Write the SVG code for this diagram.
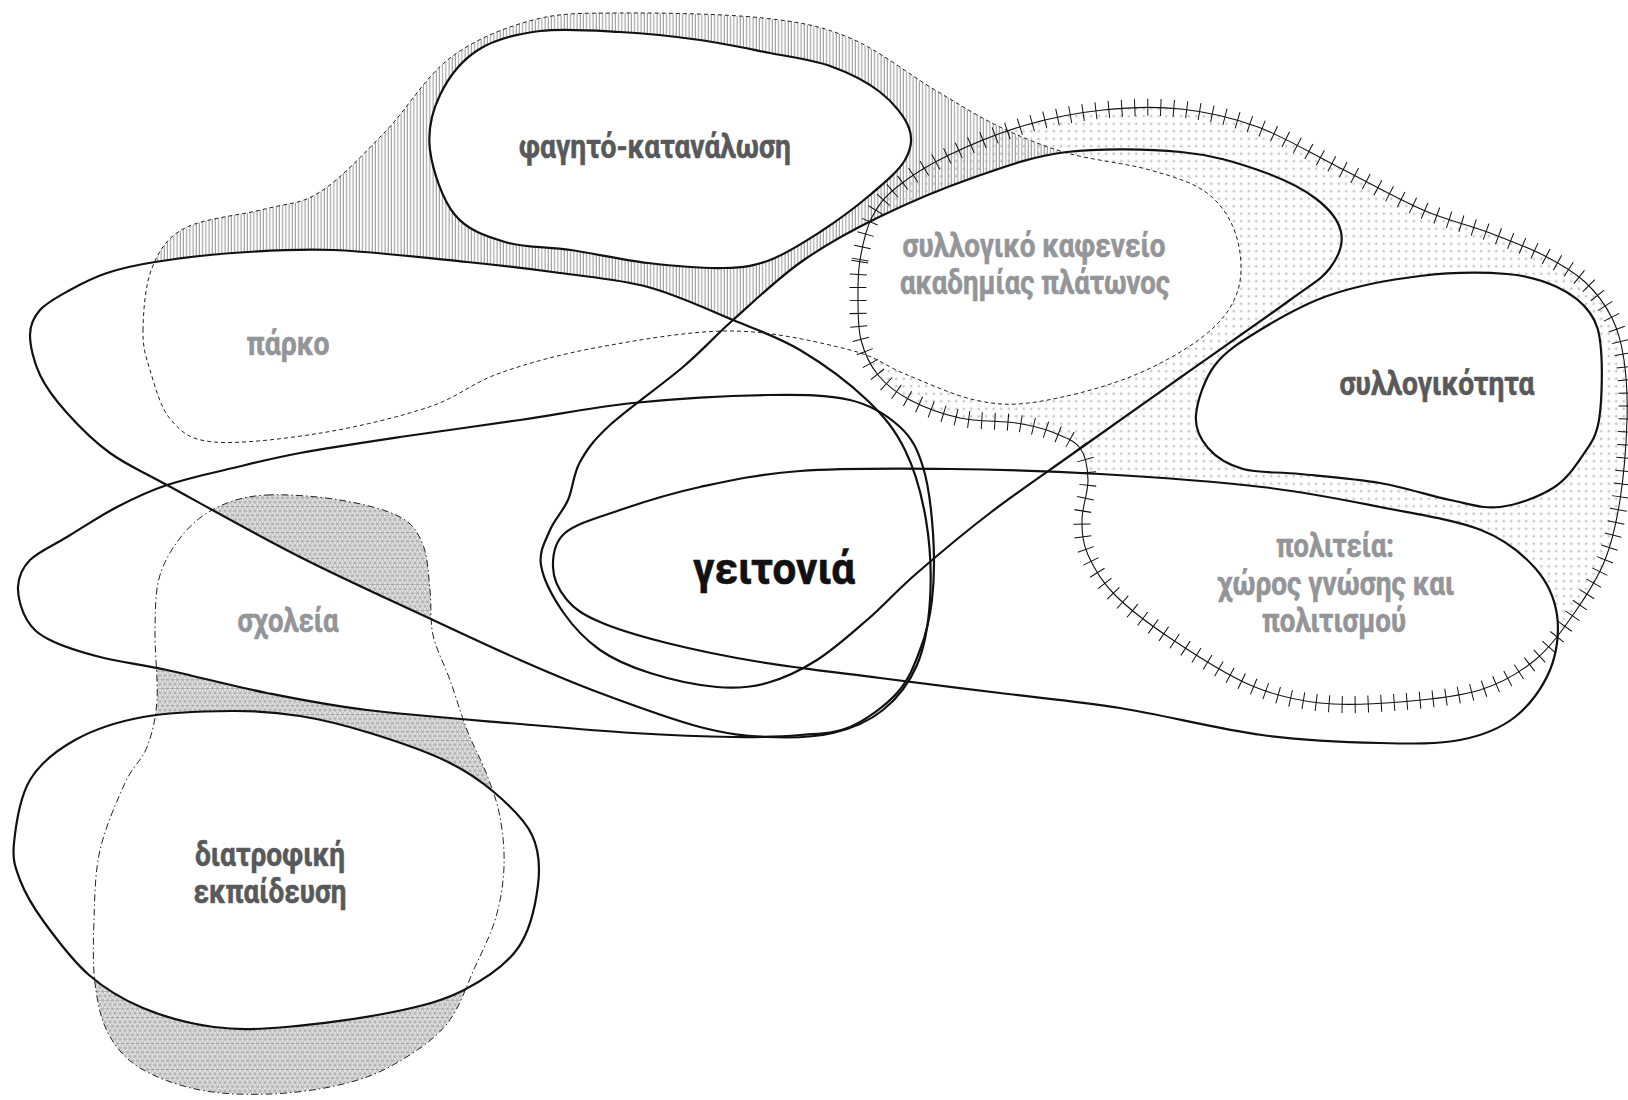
<svg xmlns="http://www.w3.org/2000/svg" xmlns:xlink="http://www.w3.org/1999/xlink" width="1628" height="1100" viewBox="0 0 1628 1100">
<style>
.solid{fill:none;stroke:#111;stroke-width:2.2;stroke-linejoin:round}
.dash{fill:none;stroke:#222;stroke-width:1;stroke-dasharray:4 3}
.dashdot{fill:none;stroke:#222;stroke-width:1;stroke-dasharray:7 3 1.5 3}
.tickline{fill:none;stroke:#111;stroke-width:1.1}
.ticks{fill:none;stroke:#111;stroke-width:17;stroke-dasharray:1 12}
.lbl{font-family:Roboto,"Noto Sans",sans-serif;font-weight:700;font-size:33px;text-anchor:middle;stroke-width:0.6;stroke-linejoin:round}
.dark{fill:#58595b;stroke:#58595b}
.light{fill:#939598;stroke:#939598}
.main{fill:#111;stroke:#111;font-size:44px}
</style>
<defs>
<path id="pPark" d="M143,330 C143.3,313 145,285 152,268 S166.2,237.8 185,228 S242.5,215 265,209 S300,204.8 320,192 S363.3,154.3 385,132 S425.3,76.7 450,58 S504.7,27.5 533,20 S581.7,13.3 620,13 S724.7,13.8 763,18 S821.3,26 850,38 S910,75.2 935,90 S978,116.5 1000,127 S1042,145.8 1067,153 S1126.7,163.3 1150,170 S1192.7,182.2 1207,193 S1230.8,218.8 1236,235 S1243.2,273.3 1238,290 S1223,320.5 1205,335 S1158.2,365.8 1130,377 S1061.8,398.2 1036,402 S996.8,404.7 975,400 S925.8,382.3 905,374 S878.7,357.2 850,350 S774.7,331.5 733,331 S638.8,340 600,347 S528.5,363 500,373 S458.8,397 429,407 S356.8,427.2 321,433 S239,444.2 214,442 S181.7,432 171,420 S154.7,385 150,370 S142.7,347 143,330 Z"/>
<path id="pS1" d="M430,150 C427.5,130 432,111.7 440,95 S461.3,60.7 478,50 S516.3,34 540,31 S593.3,30.5 620,32 S675,36.5 700,40 S748.3,48.7 770,53 S811.7,59.5 830,66 S866.8,81.7 880,92 S904.8,116.7 909,128 S911.5,148.8 905,160 S884.2,183 870,195 S836.7,221.2 820,232 S786,254 770,260 S744.3,267.5 724,268 S673.5,266 648,263 S594.8,253.5 571,250 S524.3,247.8 505,242 S467.5,230.3 455,215 S432.5,170 430,150 Z"/>
<path id="pS2" d="M30,335 C30,324.2 33.3,317.5 40,310 S58.8,296.2 70,290 S92.8,277.7 107,273 S134,265.3 155,262 S203.3,255 233,253 S294,248.5 333,250 S429.2,258.2 467,262 S529.8,268.8 560,273 S619.2,279.2 648,287 S707.7,309.5 733,320 S777.7,336.7 800,350 S849.5,383.3 867,400 S895.2,430 905,450 S921.8,495 926,520 S931.5,575.8 930,600 S924.8,646.7 917,665 S897,698.7 883,710 S852.3,728.5 833,733 S789.2,738 767,737 S727.8,734.3 700,727 S630,704.2 600,693 S547.8,672.2 520,660 S469.7,637.2 433,620 S344.3,579.5 300,557 S198.7,502.3 167,485 S126.7,465 110,453 S78.7,426 67,413 S46.2,388 40,375 S30,345.8 30,335 Z"/>
<path id="pS3" d="M18,587 C18.5,577 21.8,568.3 30,560 S52.5,545.8 67,537 S100.3,515.7 117,507 S147.7,491.5 167,485 S210.8,473.3 233,468 S272.2,458.2 300,453 S363.3,442.5 400,437 S481.2,425.7 520,420 S591.8,407.2 633,403 S730.8,395.5 767,395 S827.8,394.7 850,400 S887.8,415.8 900,427 S917.5,449.3 923,467 S931.5,510.8 933,533 S934.2,580.5 932,600 S925.8,634.5 920,650 S908.7,680.2 897,693 S866.2,720 850,727 S819.5,733.3 800,735 S760.8,737.3 733,737 S668.5,735.2 633,733 S564.3,727.8 520,724 S409.2,715.2 367,710 S300.3,699.7 267,693 S194.8,676 167,670 S119.5,662 100,657 S62.2,646.2 50,640 S32.3,628.8 27,620 S17.5,597 18,587 Z"/>
<path id="pS4a" d="M1341,232 C1343.5,243.7 1338.5,256.7 1330,268 S1314.8,281.8 1290,300 S1216.3,352 1181,377 S1109.8,427.3 1078,450 S1016.8,492.5 990,513 S937.5,555.2 917,573 S883.7,605.5 867,620 S833.7,649.5 817,660 S783.7,678.5 767,683 S736.5,688.7 717,687 S669.5,679.2 650,673 S614.5,660.2 600,650 S572.8,626.2 563,612 S543.2,578.7 541,565 S545.5,540.8 550,530 S563,511.3 568,500 S573,474.5 580,462 S592.8,440.8 610,425 S662.5,384.5 683,367 S713.3,337.5 733,320 S777,279 801,262 S848,232.2 877,218 S943.3,188 975,177 S1032.7,156.2 1067,152 S1149.2,149 1181,152 S1235.7,162.3 1258,170 S1301.2,187.7 1315,198 S1338.5,220.3 1341,232 Z"/>
<path id="pS4b" d="M553,567 C552.7,555.8 553.8,542.5 565,533 S597.5,517.7 620,510 S670,493.5 700,487 S758.3,474 800,471 S900,468.5 950,469 S1048,471 1100,474 S1215.3,481.5 1262,487 S1343.5,499.8 1380,507 S1455.2,519.8 1481,530 S1522.3,553.8 1535,568 S1554.5,598 1557,615 S1557,653 1550,670 S1530,705.3 1515,717 S1482.5,735.7 1460,740 S1413,743.8 1380,743 S1305.3,740.8 1262,735 S1163.7,715 1120,708 S1040,698 1000,693 S920,683.2 880,678 S795.5,667.8 760,662 S693.7,649.7 667,643 S616.7,629.2 600,622 S574.8,609.2 567,600 S553.3,578.2 553,567 Z"/>
<path id="pS5" d="M1196,415 C1197.2,401.2 1204.3,379.2 1215,365 S1240.8,341.7 1260,330 S1303.3,304 1330,295 S1390.5,279.5 1420,276 S1484.2,272.2 1507,274 S1543.2,280.5 1557,287 S1582.7,302.5 1590,313 S1599.5,332.2 1601,350 S1602,402.5 1599,420 S1590.7,443.7 1583,455 S1566.8,479.3 1553,488 S1517.2,505 1500,507 S1470,504 1450,500 S1405,487.3 1380,483 S1322.8,476.3 1300,474 S1258.3,473.3 1243,469 S1215.8,457 1208,448 S1194.8,428.8 1196,415 Z"/>
<path id="pS6" d="M14,843 C15.7,826.3 19.8,797.2 30,780 S56.2,750.5 75,740 S116.8,721.8 143,717 S205.8,711.2 232,711 S277,712.3 300,716 S345.7,725.5 370,733 S425.2,751 446,761 S480.7,780.7 495,793 S524.8,819.7 532,835 S540.3,866.2 538,885 S530.3,930.5 518,948 S484.8,979.3 464,990 S422.7,1005.8 393,1012 S315.8,1024.5 286,1027 S237.8,1030.2 214,1027 S163.8,1016.7 143,1008 S105.5,989.3 89,975 S55.5,937.8 44,922 S25,893.2 20,880 S12.3,859.7 14,843 Z"/>
<path id="pP2" d="M860,260 C862.3,246.2 865.8,229.2 872,217 S884.2,197.3 897,187 S927.5,165.3 949,155 S1000.3,132.5 1026,125 S1077.2,112.7 1103,110 S1155.2,106.2 1181,109 S1231.5,117.2 1258,127 S1312.5,154.2 1340,168 S1398,199.2 1423,210 S1469.7,225.3 1490,233 S1529.2,247.8 1545,256 S1573.8,271.7 1585,282 S1605.5,305 1612,318 S1621.5,343 1624,360 S1627.7,396.7 1627,420 S1623.7,476.7 1620,500 S1612.5,541.3 1605,560 S1586.7,595.3 1575,612 S1550.8,647 1535,660 S1502.5,683 1480,690 S1426.7,699.8 1400,702 S1345,705.8 1320,703 S1275,695.8 1250,685 S1192.5,653 1170,638 S1128.7,608.8 1115,595 S1093.5,567.5 1088,555 S1082,532.5 1082,520 S1088.3,492 1088,480 S1086,456 1080,448 S1062.7,436.2 1052,432 S1031.3,425.3 1016,423 S977.7,421.8 960,418 S923.7,407.2 910,400 S886.2,385 878,375 S864.3,352.5 861,340 S858.2,313.3 858,300 S857.7,273.8 860,260 Z"/>
<path id="pP3" d="M267,495 C287,494 317.8,496.3 340,500 S386.2,509.5 400,517 S418,532.8 423,545 S428.3,575 430,590 S429.7,620 433,635 S444.3,664.2 450,680 S460.8,714.2 467,730 S481.5,760.5 487,775 S497.2,801.7 500,817 S504.7,850.3 504,867 S500.8,900.3 496,917 S483.3,949 475,967 S459.7,1008.7 446,1025 S410.8,1055 393,1065 S359.5,1080.2 339,1085 S293.2,1093.2 270,1094 S221.7,1094.3 200,1090 S155.3,1077.5 140,1068 S115.5,1047.2 108,1033 S97.3,1001.8 95,983 S93.2,942.2 94,920 S94.8,872.8 100,850 S117.2,800.2 125,783 S141.7,760.8 147,747 S155.7,719.5 157,700 S154.5,650.8 155,630 S155,591.3 160,575 S175,543.5 185,532 S206.3,512.2 220,506 S247,496 267,495 Z"/>
<pattern id="hatch" patternUnits="userSpaceOnUse" width="3.2" height="10">
<line x1="1" y1="0" x2="1" y2="10" stroke="#6a6a6a" stroke-width="0.8"/>
</pattern>
<pattern id="dots" patternUnits="userSpaceOnUse" width="7.5" height="7.5">
<path d="M3.75,2.3 V5.2 M2.3,3.75 H5.2" stroke="#a8a8a8" stroke-width="0.75" fill="none"/>
</pattern>
<pattern id="tri" patternUnits="userSpaceOnUse" width="5" height="8.66">
<rect width="5" height="8.66" fill="#e8e8e8"/>
<path d="M0,0 H5 M0,4.33 H5 M0,8.66 H5 M0,0 L5,8.66 M5,0 L0,8.66" stroke="#9c9c9c" stroke-width="0.7" fill="none"/>
</pattern>
<clipPath id="cS4a"><use xlink:href="#pS4a"/></clipPath>
<clipPath id="cS3"><use xlink:href="#pS3"/></clipPath>
<mask id="mHatch" maskUnits="userSpaceOnUse" x="0" y="0" width="1628" height="1100">
<use xlink:href="#pPark" fill="#fff"/>
<use xlink:href="#pS1" fill="#000"/>
<use xlink:href="#pS2" fill="#000"/>
<use xlink:href="#pS4a" fill="#000"/>
</mask>
<mask id="mDots" maskUnits="userSpaceOnUse" x="0" y="0" width="1628" height="1100">
<use xlink:href="#pP2" fill="#fff"/>
<use xlink:href="#pPark" fill="#000" clip-path="url(#cS4a)"/>
<use xlink:href="#pS5" fill="#000"/>
<use xlink:href="#pS4b" fill="#000"/>
</mask>
<mask id="mTri" maskUnits="userSpaceOnUse" x="0" y="0" width="1628" height="1100">
<use xlink:href="#pP3" fill="#fff"/>
<use xlink:href="#pS3" fill="#000"/>
<use xlink:href="#pS2" fill="#fff" clip-path="url(#cS3)"/>
<use xlink:href="#pS6" fill="#000"/>
</mask>
</defs>
<rect width="1628" height="1100" fill="#fff"/>
<g id="pattern-fills">
<use xlink:href="#pPark" fill="url(#hatch)" mask="url(#mHatch)"/>
<use xlink:href="#pP2" fill="url(#dots)" mask="url(#mDots)"/>
<use xlink:href="#pP3" fill="url(#tri)" mask="url(#mTri)"/>
</g>
<g id="node-parko">
<use xlink:href="#pPark" class="dash"/>
<text class="lbl light" x="288" y="355" textLength="83" lengthAdjust="spacingAndGlyphs">πάρκο</text>
</g>
<g id="node-scholeia">
<use xlink:href="#pP3" class="dashdot"/>
<text class="lbl light" x="288" y="632" textLength="101" lengthAdjust="spacingAndGlyphs">σχολεία</text>
</g>
<g id="node-syllogikotita-cluster">
<use xlink:href="#pP2" class="tickline"/>
<use xlink:href="#pP2" class="ticks"/>
</g>
<g id="node-kafeneio">
<text class="lbl light" x="1034" y="257" textLength="263" lengthAdjust="spacingAndGlyphs">συλλογικό καφενείο</text>
<text class="lbl light" x="1035" y="294" textLength="270" lengthAdjust="spacingAndGlyphs">ακαδημίας πλάτωνος</text>
</g>
<g id="node-politeia">
<text class="lbl light" x="1335" y="557" textLength="118" lengthAdjust="spacingAndGlyphs">πολιτεία:</text>
<text class="lbl light" x="1336" y="595" textLength="237" lengthAdjust="spacingAndGlyphs">χώρος γνώσης και</text>
<text class="lbl light" x="1334" y="632" textLength="144" lengthAdjust="spacingAndGlyphs">πολιτισμού</text>
</g>
<g id="node-fagito">
<use xlink:href="#pS1" class="solid"/>
<text class="lbl dark" x="655" y="158" textLength="272" lengthAdjust="spacingAndGlyphs">φαγητό-κατανάλωση</text>
</g>
<g id="node-ring-a">
<use xlink:href="#pS2" class="solid"/>
</g>
<g id="node-ring-b">
<use xlink:href="#pS3" class="solid"/>
</g>
<g id="node-ring-c">
<use xlink:href="#pS4a" class="solid"/>
</g>
<g id="node-geitonia">
<use xlink:href="#pS4b" class="solid"/>
<text class="lbl main" x="774" y="584" textLength="162" lengthAdjust="spacingAndGlyphs">γειτονιά</text>
</g>
<g id="node-syllogikotita">
<use xlink:href="#pS5" class="solid"/>
<text class="lbl dark" x="1437" y="395" textLength="195" lengthAdjust="spacingAndGlyphs">συλλογικότητα</text>
</g>
<g id="node-diatrofi">
<use xlink:href="#pS6" class="solid"/>
<text class="lbl dark" x="270" y="866" textLength="150" lengthAdjust="spacingAndGlyphs">διατροφική</text>
<text class="lbl dark" x="270" y="903" textLength="153" lengthAdjust="spacingAndGlyphs">εκπαίδευση</text>
</g>
</svg>
